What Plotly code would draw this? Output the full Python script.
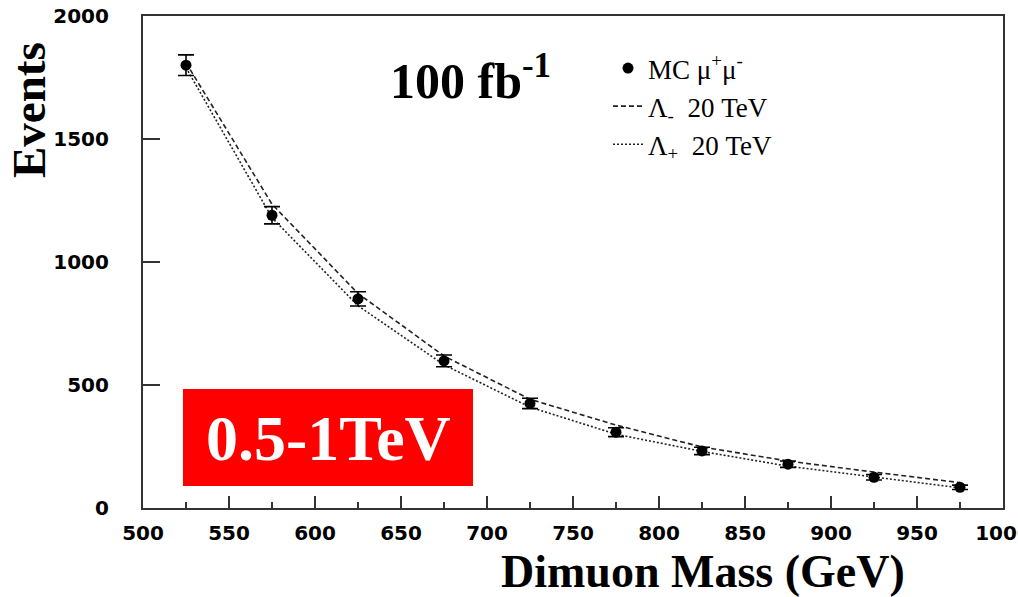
import plotly.graph_objects as go

# ---- data ----
mass = [525, 575, 625, 675, 725, 775, 825, 875, 925, 975]
mc_events = [1800, 1190, 850, 598, 425, 308, 232, 178, 125, 84]
mc_err = [42, 35, 29, 24, 21, 18, 15, 13, 11, 9]
lam_minus = [1810, 1235, 872, 618, 442, 337, 248, 191, 146, 103]
lam_plus = [1790, 1180, 822, 582, 410, 300, 230, 170, 126, 82]

x_ticks = [500, 550, 600, 650, 700, 750, 800, 850, 900, 950, 1000]
x_ticktext = ["500", "550", "600", "650", "700", "750", "800", "850", "900", "950", "1000"]
y_ticks = [0, 500, 1000, 1500, 2000]

W, H = 1018, 597
L, R, T, B = 143, 15, 16, 89
PW, PH = W - L - R, H - T - B


def px(xp):
    return (xp - L) / PW


def py(yp):
    return (H - B - yp) / PH


fig = go.Figure()
fig.add_trace(go.Scatter(
    x=mass, y=lam_minus, mode="lines", name="Λ<sub>-</sub>  20 TeV",
    line=dict(color="#222222", width=1.6, dash="5px,3px"), legendrank=2))
fig.add_trace(go.Scatter(
    x=mass, y=lam_plus, mode="lines", name="Λ<sub>+</sub>  20 TeV",
    line=dict(color="#222222", width=1.6, dash="2px,2px"), legendrank=3))
fig.add_trace(go.Scatter(
    x=mass, y=mc_events, mode="markers", name="MC μ<sup>+</sup>μ<sup>-</sup>",
    marker=dict(color="black", size=11),
    error_y=dict(type="data", array=mc_err, color="black", thickness=1.6, width=8),
    legendrank=1))

serif = "Liberation Serif, Times New Roman, serif"
tickfont = dict(family="DejaVu Sans", size=20, color="black", weight="bold")

fig.update_layout(
    width=W, height=H,
    margin=dict(l=L, r=R, t=T, b=B, autoexpand=False),
    paper_bgcolor="white", plot_bgcolor="white",
    showlegend=True,
    legend=dict(x=px(608), y=py(44),
                xanchor="left", yanchor="top",
                font=dict(family=serif, size=27, color="black"),
                bgcolor="rgba(0,0,0,0)", itemwidth=30, tracegroupgap=0),
    xaxis=dict(range=[500, 1000], tickmode="array", tickvals=x_ticks, ticktext=x_ticktext,
               ticks="inside", ticklen=12, tickwidth=1.6, tickcolor="#333",
               showline=True, linewidth=2.2, linecolor="#333", mirror=True,
               showgrid=False, zeroline=False, tickfont=tickfont, ticklabelstandoff=6,
               ticklabeloverflow="allow",
               minor=dict(dtick=25, tick0=500, ticks="inside", ticklen=6, tickwidth=1.6,
                          tickcolor="#333", showgrid=False)),
    yaxis=dict(range=[0, 2000], tickmode="array", tickvals=y_ticks,
               ticks="inside", ticklen=17, tickwidth=1.6, tickcolor="#333",
               showline=True, linewidth=2.2, linecolor="#333", mirror=True,
               showgrid=False, zeroline=False, tickfont=tickfont, ticklabelstandoff=28,
               ticklabeloverflow="allow"),
)

ann = dict(xref="paper", yref="paper", showarrow=False, xanchor="center", yanchor="middle")
# axis titles as annotations (placed as in reference)
fig.add_annotation(text="<b>Events</b>", textangle=-90, x=px(29), y=py(110),
                   font=dict(family=serif, size=47, color="black"), **ann)
fig.add_annotation(text="<b>Dimuon Mass (GeV)</b>", x=px(703), y=py(571),
                   font=dict(family=serif, size=46, color="black"), **ann)
fig.add_annotation(text="<b>100 fb<sup>-1</sup></b>", x=px(470), y=py(78),
                   font=dict(family=serif, size=50, color="black"), **ann)

# red label box
fig.add_shape(type="rect", xref="paper", yref="paper",
              x0=px(183), x1=px(473), y0=py(486), y1=py(389),
              fillcolor="#ff0000", line=dict(width=0), layer="above")
fig.add_annotation(text="<b>0.5-1TeV</b>", x=px(328), y=py(438),
                   font=dict(family=serif, size=64, color="white"), **ann)

fig.write_html("out.html", config={"displayModeBar": False},
               post_script="document.body.style.margin='0px';")
